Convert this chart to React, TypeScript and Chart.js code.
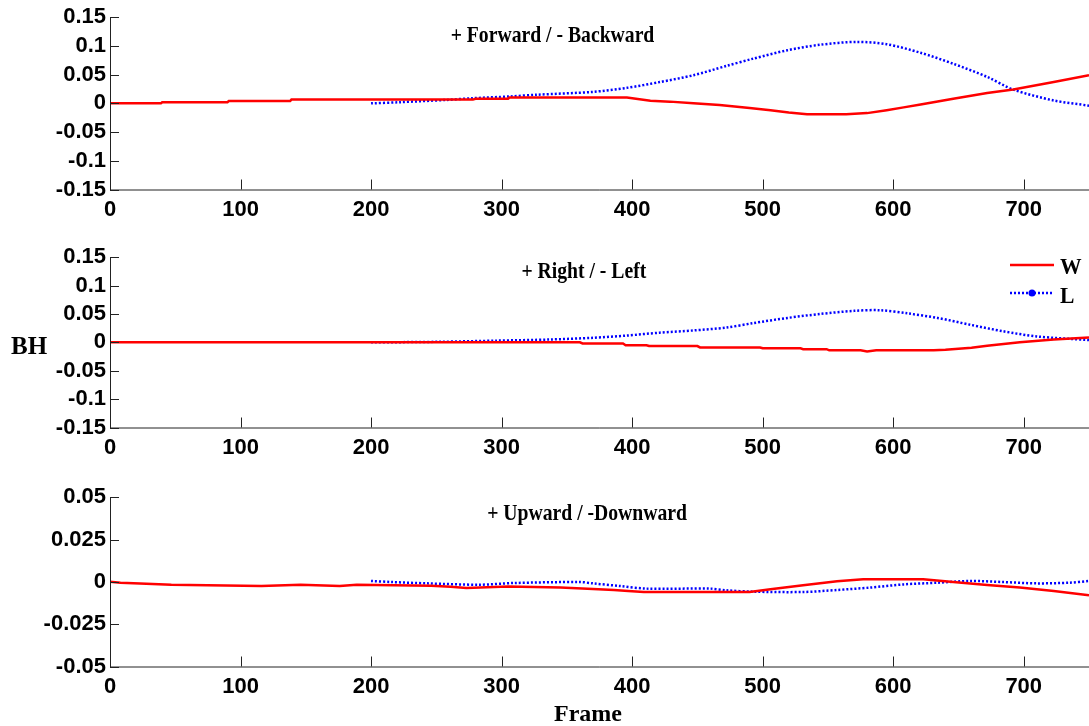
import React, { useEffect, useRef } from "react";
import { Chart, registerables } from "chart.js";
Chart.register(...registerables);

// ---- tick values / labels ----
const xTickValues = [0, 100, 200, 300, 400, 500, 600, 700];
const xTickLabels = ["0", "100", "200", "300", "400", "500", "600", "700"];
const yTickValues = [-0.15, -0.1, -0.05, 0, 0.05, 0.1, 0.15];
const yTickLabels = ["-0.15", "-0.1", "-0.05", "0", "0.05", "0.1", "0.15"];
const yTickValuesUD = [-0.05, -0.025, 0, 0.025, 0.05];
const yTickLabelsUD = ["-0.05", "-0.025", "0", "0.025", "0.05"];

const seriesNames = ["W", "L"];
const panelTitles = ["+ Forward / - Backward", "+ Right / - Left", "+ Upward / -Downward"];
const yAxisTitle = "BH";
const xAxisTitle = "Frame";

// ---- Forward / Backward ----
const fwdFramesW = [0, 39, 40, 90, 91, 138, 139, 278, 280, 305, 306, 396, 414, 429, 447, 467, 490, 506, 520, 534, 564, 580, 595, 608, 621, 646, 672, 692, 723, 750];
const fwdW = [0, 0, 0.002, 0.002, 0.004, 0.004, 0.0065, 0.0065, 0.008, 0.008, 0.01, 0.01, 0.0047, 0.003, 0, -0.003, -0.008, -0.012, -0.016, -0.019, -0.019, -0.017, -0.012, -0.007, -0.002, 0.008, 0.018, 0.024, 0.037, 0.049];
const fwdFramesL = [200, 222, 258, 278, 306, 327, 370, 396, 421, 447, 472, 493, 519, 544, 572, 595, 621, 646, 672, 692, 723, 750];
const fwdL = [0, 0.002, 0.006, 0.009, 0.012, 0.015, 0.02, 0.027, 0.037, 0.049, 0.065, 0.078, 0.0925, 0.102, 0.107, 0.103, 0.088, 0.069, 0.046, 0.024, 0.005, -0.004];

// ---- Right / Left ----
const rlFramesW = [0, 360, 362, 393, 395, 411, 413, 450, 452, 498, 500, 529, 531, 549, 551, 575, 580, 587, 631, 640, 660, 672, 697, 723, 750];
const rlW = [0, 0, -0.002, -0.002, -0.005, -0.005, -0.0065, -0.0065, -0.009, -0.009, -0.0105, -0.0105, -0.012, -0.012, -0.014, -0.014, -0.016, -0.014, -0.014, -0.013, -0.0095, -0.006, 0, 0.005, 0.0085];
const rlFramesL = [200, 253, 296, 337, 370, 396, 421, 447, 472, 493, 519, 544, 570, 590, 611, 634, 659, 684, 710, 750];
const rlL = [0, 0.001, 0.003, 0.005, 0.008, 0.012, 0.017, 0.021, 0.026, 0.034, 0.043, 0.05, 0.0555, 0.0566, 0.051, 0.043, 0.031, 0.0196, 0.0104, 0.004];

// ---- Upward / Downward ----
const udFramesW = [0, 8, 23, 47, 116, 146, 176, 189, 246, 261, 273, 305, 345, 370, 386, 397, 409, 490, 506, 531, 557, 577, 623, 646, 672, 697, 723, 750];
const udW = [0, -0.0005, -0.001, -0.0017, -0.0025, -0.0017, -0.0025, -0.0017, -0.0023, -0.0029, -0.0036, -0.0028, -0.0034, -0.0042, -0.0048, -0.0054, -0.006, -0.006, -0.0044, -0.002, 0.0003, 0.0015, 0.0015, -0.0001, -0.0019, -0.0034, -0.0054, -0.0079];
const udFramesL = [200, 216, 243, 283, 309, 360, 370, 391, 411, 460, 472, 493, 531, 557, 582, 608, 634, 659, 684, 710, 735, 750];
const udL = [0.0005, -0.0001, -0.0009, -0.0017, -0.0007, -0.0001, -0.0009, -0.0025, -0.004, -0.004, -0.005, -0.0058, -0.006, -0.0048, -0.0034, -0.0015, -0.0005, 0.0005, -0.0001, -0.0009, -0.0005, 0.0005];

const W_COLOR = "#ff0000";
const L_COLOR = "#0000ff";
const AXIS_COLOR = "#222222";
const TICK_FONT = { family: '"Liberation Sans", Arial, sans-serif', size: 22, weight: "bold" as const };
const SERIF = '"Liberation Serif", "Times New Roman", serif';

type PanelCfg = {
  top: number;
  height: number;
  areaTop: number;
  areaBottom: number;
  ymin: number;
  ymax: number;
  yVals: number[];
  yLabels: string[];
  framesW: number[];
  valsW: number[];
  framesL: number[];
  valsL: number[];
  title: string;
  titleX: number;
  titleY: number;
  legend: boolean;
};

const panels: PanelCfg[] = [
  { top: 0, height: 240, areaTop: 17, areaBottom: 189.5, ymin: -0.15, ymax: 0.15, yVals: yTickValues, yLabels: yTickLabels, framesW: fwdFramesW, valsW: fwdW, framesL: fwdFramesL, valsL: fwdL, title: panelTitles[0], titleX: 339, titleY: 0.1065, legend: false },
  { top: 240, height: 240, areaTop: 15, areaBottom: 187.5, ymin: -0.15, ymax: 0.15, yVals: yTickValues, yLabels: yTickLabels, framesW: rlFramesW, valsW: rlW, framesL: rlFramesL, valsL: rlL, title: panelTitles[1], titleX: 363, titleY: 0.1134, legend: true },
  { top: 480, height: 246, areaTop: 15, areaBottom: 186.5, ymin: -0.05, ymax: 0.05, yVals: yTickValuesUD, yLabels: yTickLabelsUD, framesW: udFramesW, valsW: udW, framesL: udFramesL, valsL: udL, title: panelTitles[2], titleX: 365.5, titleY: 0.0367, legend: false },
];

const WIDTH = 1089;

function drawSqueezed(ctx: CanvasRenderingContext2D, text: string, x: number, y: number, sx: number, align: "center" | "left") {
  ctx.save();
  ctx.translate(x, y);
  ctx.scale(sx, 1);
  ctx.textAlign = align;
  ctx.textBaseline = "alphabetic";
  ctx.fillText(text, 0, 0);
  ctx.restore();
}

function Panel({ cfg }: { cfg: PanelCfg }) {
  const ref = useRef<HTMLCanvasElement | null>(null);
  useEffect(() => {
    if (!ref.current) return;
    const panelPlugin = {
      id: "panelDecor",
      afterDraw(chart: any) {
        const ctx = chart.ctx;
        const xs = chart.scales.x;
        const ys = chart.scales.y;
        const area = chart.chartArea;
        ctx.save();
        // axes lines
        ctx.strokeStyle = AXIS_COLOR;
        ctx.lineWidth = 1;
        ctx.beginPath();
        ctx.moveTo(area.left + 0.5, area.top);
        ctx.lineTo(area.left + 0.5, area.bottom + 0.5);
        ctx.lineTo(area.right, area.bottom + 0.5);
        ctx.stroke();
        // inward ticks
        ctx.beginPath();
        xTickValues.forEach((v) => {
          const px = Math.round(xs.getPixelForValue(v)) + 0.5;
          ctx.moveTo(px, area.bottom);
          ctx.lineTo(px, area.bottom - 10);
        });
        cfg.yVals.forEach((v) => {
          const py = Math.round(ys.getPixelForValue(v)) + 0.5;
          ctx.moveTo(area.left, py);
          ctx.lineTo(area.left + 9, py);
        });
        ctx.stroke();
        // title
        ctx.fillStyle = "#000";
        ctx.font = `bold 24px ${SERIF}`;
        drawSqueezed(ctx, cfg.title, xs.getPixelForValue(cfg.titleX), ys.getPixelForValue(cfg.titleY), 0.82, "center");
        // legend
        if (cfg.legend) {
          ctx.lineWidth = 2.5;
          ctx.strokeStyle = W_COLOR;
          ctx.setLineDash([]);
          ctx.beginPath();
          ctx.moveTo(1010, 25);
          ctx.lineTo(1054, 25);
          ctx.stroke();
          ctx.lineWidth = 2.5;
          ctx.strokeStyle = L_COLOR;
          ctx.setLineDash([2, 2]);
          ctx.beginPath();
          ctx.moveTo(1010, 53);
          ctx.lineTo(1054, 53);
          ctx.stroke();
          ctx.setLineDash([]);
          ctx.fillStyle = L_COLOR;
          ctx.beginPath();
          ctx.arc(1032, 53, 3.5, 0, Math.PI * 2);
          ctx.fill();
          ctx.fillStyle = "#000";
          ctx.font = `bold 24px ${SERIF}`;
          drawSqueezed(ctx, seriesNames[0], 1060, 34, 0.9, "left");
          drawSqueezed(ctx, seriesNames[1], 1060, 63, 0.9, "left");
        }
        ctx.restore();
      },
    };
    const chart = new Chart(ref.current, {
      type: "line",
      data: {
        datasets: [
          {
            label: seriesNames[0],
            data: cfg.framesW.map((f, i) => ({ x: f, y: cfg.valsW[i] })),
            borderColor: W_COLOR,
            borderWidth: 2.5,
            pointRadius: 0,
            tension: 0,
            fill: false,
          },
          {
            label: seriesNames[1],
            data: cfg.framesL.map((f, i) => ({ x: f, y: cfg.valsL[i] })),
            borderColor: L_COLOR,
            borderWidth: 2.5,
            borderDash: [2, 2],
            pointRadius: 0,
            tension: 0.3,
            fill: false,
          },
        ],
      },
      options: {
        responsive: false,
        animation: false,
        events: [],
        layout: { padding: { top: cfg.areaTop, left: 0, right: 0, bottom: 0 } },
        plugins: { legend: { display: false }, tooltip: { enabled: false } },
        scales: {
          x: {
            type: "linear",
            min: 0,
            max: 750,
            grid: { display: false, drawTicks: false },
            border: { display: false },
            afterBuildTicks: (s: any) => {
              s.ticks = xTickValues.map((v) => ({ value: v }));
            },
            afterFit: (s: any) => {
              s.height = cfg.height - cfg.areaBottom;
            },
            ticks: {
              autoSkip: false,
              maxRotation: 0,
              padding: 7,
              color: "#000",
              font: TICK_FONT,
              callback: (_v: any, i: number) => xTickLabels[i],
            },
          },
          y: {
            type: "linear",
            min: cfg.ymin,
            max: cfg.ymax,
            grid: { display: false, drawTicks: false },
            border: { display: false },
            afterBuildTicks: (s: any) => {
              s.ticks = cfg.yVals.map((v) => ({ value: v }));
            },
            afterFit: (s: any) => {
              s.width = 110;
            },
            ticks: {
              autoSkip: false,
              padding: 4,
              color: "#000",
              font: TICK_FONT,
              callback: (_v: any, i: number) => cfg.yLabels[i],
            },
          },
        },
      },
      plugins: [panelPlugin],
    } as any);
    return () => chart.destroy();
  }, [cfg]);
  return (
    <canvas
      ref={ref}
      width={WIDTH}
      height={cfg.height}
      style={{ position: "absolute", left: 0, top: cfg.top, width: WIDTH, height: cfg.height }}
    />
  );
}

export default function App() {
  useEffect(() => {
    document.body.style.margin = "0";
  }, []);
  return (
    <div style={{ position: "absolute", left: 0, top: 0, width: WIDTH, height: 726, background: "#fff", overflow: "hidden" }}>
      {panels.map((p, i) => (
        <Panel key={i} cfg={p} />
      ))}
      <div style={{ position: "absolute", left: 11, top: 333, fontFamily: SERIF, fontWeight: "bold", fontSize: 25, lineHeight: "25px", color: "#000" }}>
        {yAxisTitle}
      </div>
      <div style={{ position: "absolute", left: 0, width: 1176, top: 701, textAlign: "center", fontFamily: SERIF, fontWeight: "bold", fontSize: 24, lineHeight: "24px", color: "#000" }}>
        {xAxisTitle}
      </div>
    </div>
  );
}
